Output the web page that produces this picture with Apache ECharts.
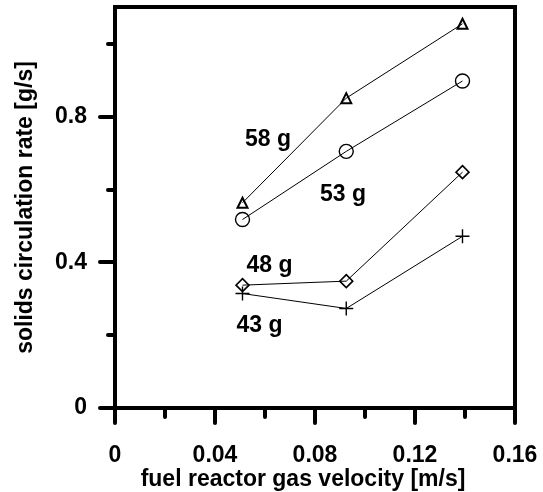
<!DOCTYPE html>
<html>
<head>
<meta charset="utf-8">
<script src="https://cdn.jsdelivr.net/npm/echarts@6/dist/echarts.min.js"></script>
<style>
html,body{margin:0;padding:0;background:#fff;}
#chart{width:543px;height:492px;}
</style>
</head>
<body>
<div id="chart"></div>
<script>
// ---- data ----
var velocity = [0.051, 0.0925, 0.139];
var rate58 = [0.563, 0.850, 1.054];
var rate53 = [0.517, 0.704, 0.897];
var rate48 = [0.337, 0.348, 0.647];
var rate43 = [0.314, 0.273, 0.471];
var seriesNames = ['58 g', '53 g', '48 g', '43 g'];
var annotationX = [0.0612, 0.0912, 0.0618, 0.0578];
var annotationY = [0.737, 0.585, 0.390, 0.226];
var xMajorTicks = [0, 0.04, 0.08, 0.12, 0.16];
var xMinorTicks = [0.02, 0.06, 0.10, 0.14];
var yMajorTicks = [0, 0.4, 0.8];
var yMinorTicks = [0.2, 0.6, 1.0];

var FONT = '"Liberation Sans", Arial, sans-serif';
var FS = 23;
function pairs(xs, ys){ return xs.map(function(x,i){ return [x, ys[i]]; }); }
function fmt(v){ return v === 0 ? '0' : String(+v.toFixed(2)); }

var chart = echarts.init(document.getElementById('chart'), null, {renderer:'canvas'});
var plusPath = 'path://M0,5L10,5M5,0L5,10';

function lineSeries(name, ys, symbol, size, bw){
  return {
    name: name, type: 'line', data: pairs(velocity, ys),
    symbol: symbol, symbolSize: size, showAllSymbol: true,
    lineStyle: {color:'#000', width:1},
    itemStyle: {color:'rgba(0,0,0,0)', borderColor:'#000', borderWidth: bw},
    emphasis: {disabled:true}, animation:false, z: 3
  };
}

var annData = seriesNames.map(function(n,i){ return {name:n, value:[annotationX[i], annotationY[i]]}; });

var option = {
  backgroundColor: '#fff',
  animation: false,
  grid: {left:115, right:28, top:7, bottom:84, outerBoundsMode:'none', containLabel:false, show:true, borderColor:'#000', borderWidth:4, backgroundColor:'rgba(0,0,0,0)'},
  xAxis: [{
    type:'value', min:0, max:0.16, position:'bottom',
    name:'fuel reactor gas velocity [m/s]', nameLocation:'middle', nameGap:60, nameMoveOverlap:false,
    nameTextStyle:{fontFamily:FONT, fontWeight:'bold', fontSize:FS, color:'#000', padding:[0,24,0,0]},
    axisLine:{show:true, lineStyle:{color:'#000', width:4}},
    axisTick:{show:true, inside:false, length:15, customValues:xMajorTicks, lineStyle:{color:'#000', width:4, cap:'round'}},
    axisLabel:{show:true, margin:36, customValues:xMajorTicks, formatter:fmt, fontFamily:FONT, fontWeight:'bold', fontSize:FS, color:'#000'},
    splitLine:{show:false}
  },{
    type:'value', min:0, max:0.16, position:'bottom',
    axisLine:{show:false},
    axisTick:{show:true, inside:false, length:9, customValues:xMinorTicks, lineStyle:{color:'#000', width:4, cap:'round'}},
    axisLabel:{show:false}, splitLine:{show:false}
  }],
  yAxis: [{
    type:'value', min:0, max:1.1, position:'left',
    name:'solids circulation rate [g/s]', nameLocation:'middle', nameGap:78, nameMoveOverlap:false,
    nameTextStyle:{fontFamily:FONT, fontWeight:'bold', fontSize:FS, color:'#000'},
    axisLine:{show:true, lineStyle:{color:'#000', width:4}},
    axisTick:{show:true, inside:false, length:15, customValues:yMajorTicks, lineStyle:{color:'#000', width:4, cap:'round'}},
    axisLabel:{show:true, margin:28, customValues:yMajorTicks, formatter:fmt, fontFamily:FONT, fontWeight:'bold', fontSize:FS, color:'#000'},
    splitLine:{show:false}
  },{
    type:'value', min:0, max:1.1, position:'left',
    axisLine:{show:false},
    axisTick:{show:true, inside:false, length:7, customValues:yMinorTicks, lineStyle:{color:'#000', width:4, cap:'round'}},
    axisLabel:{show:false}, splitLine:{show:false}
  }],
  series: [
    lineSeries(seriesNames[0], rate58, 'triangle', 10, 2),
    lineSeries(seriesNames[1], rate53, 'circle', 14, 1.4),
    lineSeries(seriesNames[2], rate48, 'diamond', 13, 1.6),
    lineSeries(seriesNames[3], rate43, plusPath, 14, 1.4),
    {
      type:'scatter', data: annData, symbolSize:0, z:4,
      itemStyle:{opacity:1, color:'#000'},
      label:{show:true, position:'inside', formatter:'{b}', fontFamily:FONT, fontWeight:'bold', fontSize:FS, color:'#000', opacity:1, textBorderWidth:0},
      emphasis:{disabled:true}, silent:true
    }
  ]
};
chart.setOption(option);
</script>
</body>
</html>
